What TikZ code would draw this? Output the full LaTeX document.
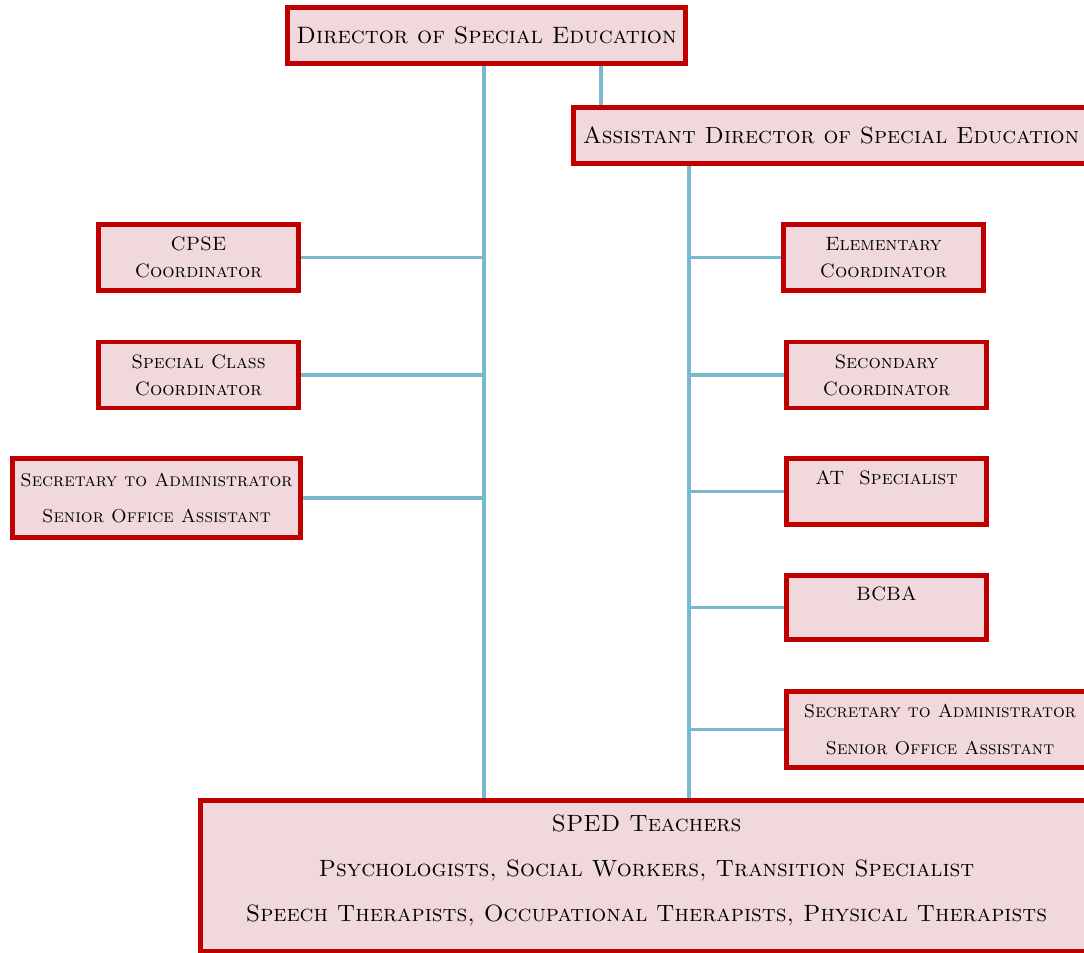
\documentclass[tikz,border=0pt]{standalone}
\usepackage{xcolor}
\definecolor{boxRed}{HTML}{C00000}
\definecolor{boxFill}{HTML}{F0D8DC}
\definecolor{lineBlue}{HTML}{7AB8D0}
\usepackage{tikz}
\usetikzlibrary{positioning,calc}
\tikzset{
  staffBox/.style={
    rectangle,
    draw=boxRed,
    fill=boxFill,
    line width=0.09cm,
    inner sep=0pt,
    align=center,
    font=\fontsize{11}{15.4}\selectfont\scshape,
    minimum width=4cm,
    minimum height=1.32cm
 },
  headBox/.style={
    staffBox,
    font=\fontsize{13.5}{16}\selectfont\scshape,
    minimum height=1.12cm
 },
  secBox/.style={
    staffBox,
    font=\fontsize{10.6}{15}\selectfont\scshape
 },
  linkLine/.style={
    draw=lineBlue,
    line width=0.065cm
 }
}
\begin{document}
\begin{tikzpicture}
            \clip (0,0) rectangle (21.68,-19.06);
            \fill[white] (0,0) rectangle (21.68,-19.06);

            \node[headBox, minimum width=7.96cm] (director) at (9.73,-0.71) {Director of Special Education};
            \node[headBox, minimum width=10.3cm, font=\fontsize{13.3}{16}\selectfont\scshape] (assistant) at (16.62,-2.71) {Assistant Director of Special Education};

            \node[staffBox] (cpse) at (3.97,-5.15) {CPSE\\Coordinator};
            \node[staffBox] (specialClass) at (3.97,-7.5) {Special Class\\Coordinator};
            \node[secBox, minimum width=5.76cm, minimum height=1.58cm] (secLeft) at (3.13,-9.96) {Secretary to Administrator\\[6pt]Senior Office Assistant};

            \node[staffBox] (elementary) at (17.67,-5.15) {Elementary\\Coordinator};
            \node[staffBox] (secondary) at (17.73,-7.5) {Secondary\\Coordinator};
            \node[staffBox] (atSpec) at (17.73,-9.83) {AT\ \ Specialist\\~};
            \node[staffBox, minimum height=1.28cm] (bcba) at (17.73,-12.15) {BCBA\\~};
            \node[secBox, minimum width=6.14cm, minimum height=1.52cm] (secRight) at (18.8,-14.59) {Secretary to Administrator\\[6pt]Senior Office Assistant};

            \node[staffBox, font=\fontsize{13.4}{25.6}\selectfont\scshape, minimum width=17.84cm, minimum height=3.01cm] (teachers) at (12.93,-17.51) {SPED Teachers\\Psychologists, Social Workers, Transition Specialist\\Speech Therapists, Occupational Therapists, Physical Therapists\rule[-8pt]{0pt}{0pt}};

            % spines
            \coordinate (leftSpine) at (9.68,0);
            \coordinate (assistLink) at (12.02,0);
            \coordinate (rightSpine) at (13.78,0);

            \draw[linkLine] (director.south -| leftSpine) -- (teachers.north -| leftSpine);
            \draw[linkLine] (director.south -| assistLink) -- (assistant.north -| assistLink);
            \draw[linkLine] (assistant.south -| rightSpine) -- (teachers.north -| rightSpine);

            \foreach \staff in {cpse,specialClass,secLeft}
              \draw[linkLine] (\staff.east) -- (\staff.east -| leftSpine);
            \foreach \staff in {elementary,secondary,atSpec,bcba,secRight}
              \draw[linkLine] (rightSpine |- \staff.west) -- (\staff.west);
        \end{tikzpicture}
\end{document}
